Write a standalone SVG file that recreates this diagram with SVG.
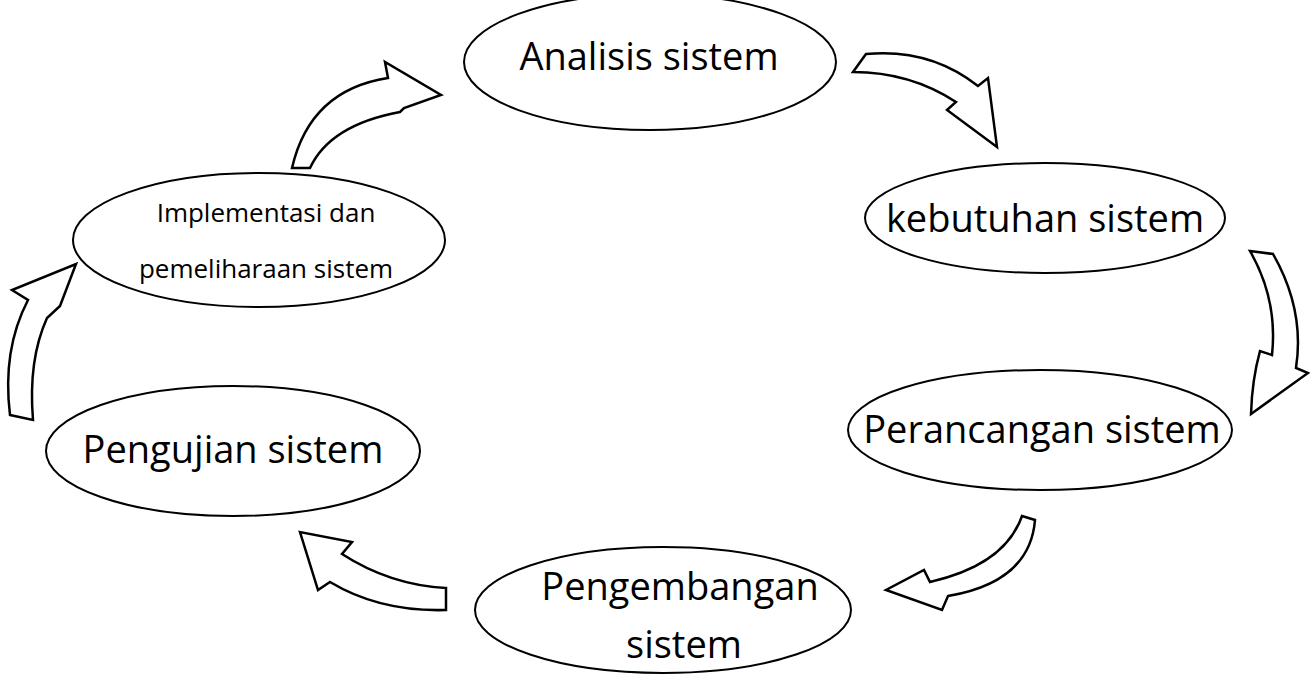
<svg xmlns="http://www.w3.org/2000/svg" width="1310" height="674" viewBox="0 0 1310 674">
<style>
.n{fill:#fff;stroke:#000;stroke-width:2}
.a{fill:#fff;stroke:#000;stroke-width:2.5;stroke-linejoin:miter}
text{font-family:"Open Sans","DejaVu Sans",sans-serif;fill:#000}
.b{font-size:38px}
.s{font-size:26px}
</style>
<rect width="1310" height="674" fill="#fff"/>
<g id="connectors">
<path class="a" d="M866,54 Q930,48 978,86 L988,78 L997,147 L947,110 L956,102 Q910,72 853,72 Z"/>
<path class="a" d="M1250,251 L1273,254 Q1305,310 1296,368 L1308,373 L1251,414 Q1252,380 1260,351 L1272,355 Q1278,300 1250,251 Z"/>
<path class="a" d="M1022,516 L1035,520 Q1030,582 948,596 L942,610 L886,590 L924,570 L930,582 Q1005,565 1022,516 Z"/>
<path class="a" d="M446,588 L446,610 Q380,612 330,582 L318,590 L300,532 L352,542 L342,554 Q390,585 446,588 Z"/>
<path class="a" d="M10,415 L33,420 Q28,360 47,318 L60,306 L76,264 L12,290 L28,300 Q2,350 10,415 Z"/>
<path class="a" d="M292,168 L310,168 Q330,125 400,112 L404,108 L441,95 L385,62 L388,78 Q310,90 292,168 Z"/>
</g>
<g id="analisis"><ellipse class="n" cx="650" cy="62" rx="186" ry="68"/><text class="b" x="649" y="70" text-anchor="middle">Analisis sistem</text></g>
<g id="kebutuhan"><ellipse class="n" cx="1045" cy="218" rx="180" ry="55"/><text class="b" x="1045" y="232" text-anchor="middle">kebutuhan sistem</text></g>
<g id="perancangan"><ellipse class="n" cx="1040" cy="430" rx="192" ry="60"/><text class="b" x="1042" y="443" text-anchor="middle">Perancangan sistem</text></g>
<g id="pengembangan"><ellipse class="n" cx="663" cy="610" rx="188" ry="63"/><text class="b" x="680" y="600" text-anchor="middle">Pengembangan</text><text class="b" x="684" y="658" text-anchor="middle">sistem</text></g>
<g id="pengujian"><ellipse class="n" cx="233" cy="451" rx="187" ry="65"/><text class="b" x="233" y="463" text-anchor="middle">Pengujian sistem</text></g>
<g id="implementasi"><ellipse class="n" cx="259" cy="240" rx="186" ry="67"/><text class="s" x="266" y="222" text-anchor="middle">Implementasi dan</text><text class="s" x="266" y="278" text-anchor="middle">pemeliharaan sistem</text></g>
</svg>
